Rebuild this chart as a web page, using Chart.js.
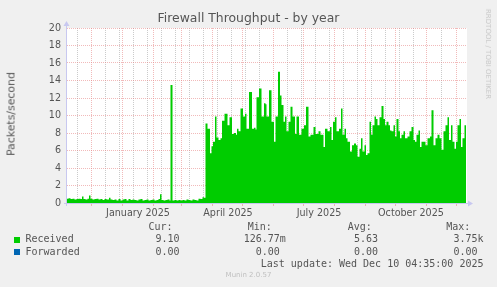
<!DOCTYPE html>
<html>
<head>
<meta charset="utf-8">
<script src="https://cdn.jsdelivr.net/npm/chart.js@4/dist/chart.umd.min.js"></script>
<style>
  body { margin: 0; background: #f0f0f0; }
  #wrap { position: relative; width: 497px; height: 287px; background: #f0f0f0; overflow: hidden;
          font-family: "DejaVu Sans", sans-serif; color: #555; }
  canvas { position: absolute; left: 0; top: 0; }
  .t { position: absolute; white-space: pre; }
  .mono { font-family: "DejaVu Sans Mono", monospace; font-size: 10px; line-height: 12px; color: #555; }
  .sq { position: absolute; width: 6px; height: 6px; }
</style>
</head>
<body>
<div id="wrap">
  <canvas id="fwChart" width="497" height="287"></canvas>
  <div class="t" id="title" style="left:0;width:497px;top:10px;text-align:center;font-size:12.4px;line-height:15px;"></div>
  <div class="t" id="yTitle" style="left:11px;top:114px;font-size:10.9px;line-height:13px;transform:translate(-50%,-50%) rotate(-90deg);"></div>
  <div class="t" id="mark" style="left:488px;top:53.5px;font-size:7px;line-height:8px;color:#c8c8c8;transform:translate(-50%,-50%) rotate(90deg);"></div>
  <div id="legend"></div>
  <div class="t" id="footer" style="left:0;width:497px;top:271px;text-align:center;font-size:7px;line-height:9px;color:#c0c0c0;"></div>
</div>
<script>
// days counted from 2024-11-05 00:00, the graph spans the last 400 days
const days = [
  1.5, 3, 5, 7, 9, 11, 13, 15, 16.5, 18,
  20, 22, 23.5, 25, 27, 29, 31, 33, 35, 37,
  39, 41, 43.5, 45, 47, 49, 51, 53, 55, 57,
  59, 61, 63, 65, 67, 69, 71, 73, 75, 77,
  79, 81, 83, 85, 87, 89, 91, 93, 94.5, 96,
  98, 100, 102, 104, 105, 107, 109, 111, 113, 115,
  117, 119, 121, 123, 125, 127, 129, 131, 133, 135,
  137, 138.5, 140, 142, 144.5, 146, 147.5, 149.5, 151, 153,
  155, 156.5, 159, 162, 164, 166.5, 168.5, 170.5, 171.5, 173,
  175, 177.5, 179.5, 181, 183.5, 186.5, 188.5, 190, 191, 193.5,
  196, 198.5, 200, 201, 203.5, 206, 208.5, 210, 212.5, 214.5,
  216, 218, 219.5, 221, 223, 225, 227, 229.5, 231, 233.5,
  236, 238.5, 240.5, 243, 245, 248, 250, 253, 255, 258,
  259.5, 262, 264.5, 266, 267.5, 269.5, 271, 273.5, 275.5, 277,
  279, 280.5, 282, 284.5, 286.5, 288.5, 290.5, 292, 294, 295.5,
  297, 299, 300.5, 302, 304, 305.5, 307, 309, 310.5, 312,
  314, 316, 318, 319.5, 321, 323, 324.5, 326, 328, 329.5,
  331, 333, 334.5, 336, 338, 339.5, 342, 344, 346, 348,
  349.5, 351, 353, 354.5, 356, 358, 360, 362, 364.5, 366,
  368, 370, 372, 374, 376, 378, 380, 382, 383.5, 385.5,
  387, 389, 390.5, 392, 394, 395.5, 397, 399, 400.5
];

const received = [
  0.5, 0.55, 0.45, 0.5, 0.4, 0.45, 0.5, 0.45, 0.75, 0.45,
  0.4, 0.5, 0.85, 0.5, 0.4, 0.45, 0.5, 0.4, 0.45, 0.35,
  0.45, 0.4, 0.6, 0.4, 0.35, 0.4, 0.3, 0.45, 0.3, 0.4,
  0.45, 0.3, 0.45, 0.35, 0.4, 0.35, 0.3, 0.4, 0.45, 0.3,
  0.35, 0.4, 0.3, 0.35, 0.4, 0.3, 0.35, 0.45, 1.0, 0.35,
  0.3, 0.35, 0.4, 0.3, 13.5, 0.3, 0.35, 0.3, 0.35, 0.3,
  0.35, 0.3, 0.4, 0.35, 0.3, 0.4, 0.35, 0.3, 0.5, 0.45,
  0.65, 0.6, 9.1, 8.5, 5.7, 6.5, 7.0, 9.9, 7.5, 7.2,
  7.4, 9.4, 10.2, 8.9, 9.8, 7.9, 8.0, 7.8, 8.5, 8.2,
  10.8, 9.9, 10.2, 8.5, 12.7, 8.5, 8.6, 8.4, 12.1, 13.1,
  9.9, 11.4, 11.3, 9.9, 12.9, 9.3, 7.0, 9.9, 15.0, 12.3,
  11.2, 9.3, 9.9, 8.2, 9.3, 11.0, 9.9, 7.9, 9.9, 7.8,
  8.5, 8.9, 11.0, 7.6, 7.8, 8.7, 7.9, 8.2, 7.8, 6.4,
  8.5, 8.2, 8.7, 7.2, 9.3, 9.8, 8.2, 8.5, 10.8, 7.8,
  8.5, 7.4, 7.0, 5.9, 6.6, 6.8, 6.6, 5.3, 6.2, 7.4,
  5.9, 6.6, 5.5, 5.7, 9.3, 7.8, 8.9, 9.9, 9.6, 8.9,
  9.8, 11.1, 9.6, 8.9, 9.3, 8.9, 8.3, 8.2, 8.9, 7.6,
  9.6, 8.2, 7.4, 7.8, 8.2, 7.4, 7.6, 8.2, 8.7, 7.2,
  7.0, 7.8, 8.3, 6.4, 7.0, 7.0, 6.6, 7.4, 7.6, 10.6,
  6.6, 7.4, 7.8, 7.4, 6.1, 8.2, 8.9, 9.8, 7.2, 8.9,
  7.0, 6.2, 7.0, 8.9, 9.6, 6.4, 7.4, 8.9, 9.1
];

const forwarded = days.map(() => 0);

// x axis: first of each month, quarterly labels
const monthStarts = [26, 57, 88, 116, 147, 177, 208, 238, 269, 300, 330, 361, 391];
const quarterDays = [57, 147, 238, 330];
const quarterLabels = ["January 2025", "April 2025", "July 2025", "October 2025"];

// legend table
const seriesNames = ["Received", "Forwarded"];
const seriesColors = ["#00cc00", "#0066b3"];
const curVals = ["9.10 ", "0.00 "];
const minVals = ["126.77m", "0.00 "];
const avgVals = ["5.63 ", "0.00 "];
const maxVals = ["3.75k", "0.00 "];
const lastUpdate = "Last update: Wed Dec 10 04:35:00 2025";

document.getElementById("title").textContent = "Firewall Throughput - by year";
document.getElementById("yTitle").textContent = "Packets/second";
document.getElementById("mark").textContent = "RRDTOOL / TOBI OETIKER";
document.getElementById("footer").textContent = "Munin 2.0.57";

// legend layout
const legend = document.getElementById("legend");
function addText(txt, css) {
  const d = document.createElement("div");
  d.className = "t mono";
  d.textContent = txt;
  d.style.cssText += css;
  legend.appendChild(d);
}
const headRow = 221, rowTop = [233.4, 245.6];
[["Cur:", 148.5], ["Min:", 247.8], ["Avg:", 347.8], ["Max:", 446.2]].forEach(([h, x]) => addText(h, `left:${x}px;top:${headRow}px;`));
const colRight = [185.5, 285.8, 384, 483.5];
seriesNames.forEach((name, i) => {
  const sq = document.createElement("div");
  sq.className = "sq";
  sq.style.cssText = `left:14px;top:${rowTop[i] + 3.5}px;background:${seriesColors[i]};`;
  legend.appendChild(sq);
  addText(name, `left:25.5px;top:${rowTop[i]}px;`);
  [curVals[i], minVals[i], avgVals[i], maxVals[i]].forEach((v, c) =>
    addText(v, `right:${497 - colRight[c]}px;top:${rowTop[i]}px;text-align:right;`));
});
addText(lastUpdate, `right:${497 - 483.5}px;top:257.5px;text-align:right;`);

// x ticks: month grid (red), two-week grid (grey), label positions
const labelDays = quarterDays.map(d => d + 15.5);
const biweekly = [];
for (let d = 12; d < 401; d += 14) if (!monthStarts.some(m => Math.abs(m - d) < 1.5)) biweekly.push(d);
const xTicks = [...monthStarts, ...biweekly, ...labelDays].sort((a, b) => a - b);

const RED = "rgba(230,130,130,0.55)";
const GREY = "rgba(185,185,185,0.75)";

const frame = {
  id: "frame",
  beforeDraw(chart) {
    const a = chart.chartArea, g = chart.ctx;
    g.save();
    g.fillStyle = "#ffffff";
    g.fillRect(a.left, a.top, a.right - a.left, a.bottom - a.top);
    g.restore();
  },
  afterDatasetsDraw(chart) {
    const a = chart.chartArea, g = chart.ctx;
    g.save();
    g.strokeStyle = "#c8c8f0";
    g.fillStyle = "#c8c8f0";
    g.lineWidth = 1;
    g.beginPath();
    g.moveTo(a.left - 0.5, a.bottom + 3);
    g.lineTo(a.left - 0.5, a.top - 2);
    g.moveTo(a.left - 3, a.bottom + 0.5);
    g.lineTo(a.right + 1, a.bottom + 0.5);
    g.stroke();
    g.beginPath();
    g.moveTo(a.left - 3.5, a.top - 2);
    g.lineTo(a.left + 2.5, a.top - 2);
    g.lineTo(a.left - 0.5, a.top - 7);
    g.closePath();
    g.fill();
    g.beginPath();
    g.moveTo(a.right + 1, a.bottom - 2.5);
    g.lineTo(a.right + 1, a.bottom + 3.5);
    g.lineTo(a.right + 6, a.bottom + 0.5);
    g.closePath();
    g.fill();
    g.restore();
  }
};

const ctx = document.getElementById("fwChart").getContext("2d");
const fwChart = new Chart(ctx, {
  type: "line",
  data: {
    datasets: [
      {
        label: seriesNames[0],
        data: days.map((d, i) => ({ x: d, y: received[i] })),
        stepped: true,
        fill: "origin",
        backgroundColor: seriesColors[0],
        borderColor: seriesColors[0],
        borderWidth: 0,
        pointRadius: 0,
      },
      {
        label: seriesNames[1],
        data: days.map((d, i) => ({ x: d, y: forwarded[i] })),
        hidden: true,
        borderColor: seriesColors[1],
        pointRadius: 0,
      },
    ],
  },
  options: {
    responsive: false,
    animation: false,
    events: [],
    layout: { padding: { left: 0, top: 28, right: 30, bottom: 64 } },
    plugins: { legend: { display: false }, tooltip: { enabled: false }, title: { display: false } },
    scales: {
      x: {
        type: "linear",
        min: 1.5,
        max: 401.5,
        afterBuildTicks: (s) => { s.ticks = xTicks.map(v => ({ value: v })); },
        afterFit: (s) => { s.height = 20; },
        border: { display: false, dash: [1, 1] },
        grid: {
          color: (c) => monthStarts.includes(c.tick.value) ? RED : (biweekly.includes(c.tick.value) ? GREY : "rgba(0,0,0,0)"),
          tickColor: (c) => monthStarts.includes(c.tick.value) ? RED : "rgba(0,0,0,0)",
          tickLength: 3,
        },
        ticks: {
          autoSkip: false,
          maxRotation: 0,
          padding: 2,
          color: "#555",
          font: { family: "DejaVu Sans", size: 9.6 },
          callback: (v) => { const k = labelDays.indexOf(v); return k >= 0 ? quarterLabels[k] : ""; },
        },
      },
      y: {
        min: 0,
        max: 20,
        afterFit: (s) => { s.width = 67; },
        border: { display: false, dash: [1, 1] },
        grid: {
          color: (c) => c.tick.value % 2 === 0 ? RED : GREY,
          drawTicks: false,
        },
        ticks: {
          stepSize: 1,
          padding: 6,
          color: "#555",
          font: { family: "DejaVu Sans", size: 9.6 },
          callback: (v) => v % 2 === 0 ? String(v) : "",
        },
      },
    },
  },
  plugins: [frame],
});
</script>
</body>
</html>
